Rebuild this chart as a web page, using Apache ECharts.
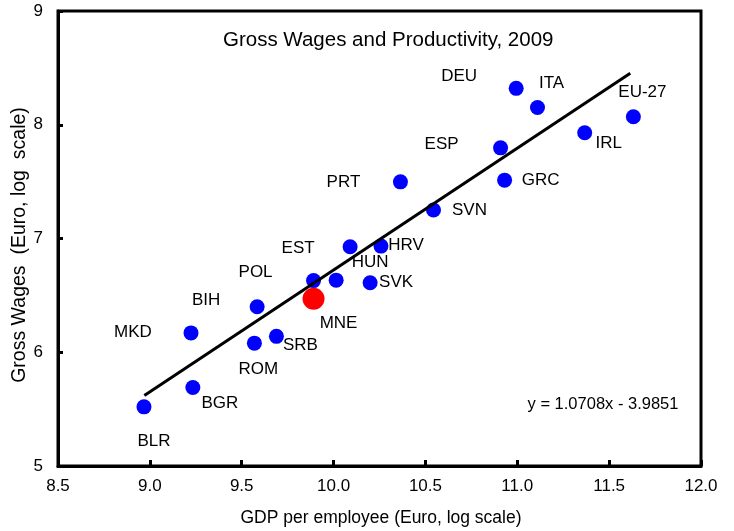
<!DOCTYPE html>
<html>
<head>
<meta charset="utf-8">
<script src="https://cdn.jsdelivr.net/npm/echarts@6/dist/echarts.min.js"></script>
<style>
  html, body { margin: 0; padding: 0; background: #fff; }
  #main { width: 734px; height: 531px; }
</style>
</head>
<body>
<div id="main"></div>
<script>
// country codes, GDP per employee (log) and gross wages (log)
var countries = ['BLR', 'BGR', 'MKD', 'BIH', 'ROM', 'SRB', 'POL', 'HUN', 'EST', 'SVK',
                 'HRV', 'PRT', 'SVN', 'ESP', 'GRC', 'DEU', 'ITA', 'IRL', 'EU-27'];
var gdpLog   = [8.968, 9.234, 9.224, 9.584, 9.569, 9.689, 9.891, 10.014, 10.090, 10.199,
                10.258, 10.364, 10.544, 10.909, 10.931, 10.994, 11.110, 11.367, 11.632];
var wageLog  = [5.52, 5.69, 6.17, 6.40, 6.08, 6.14, 6.63, 6.634, 6.928, 6.611,
                6.933, 7.498, 7.25, 7.797, 7.513, 8.32, 8.152, 7.93, 8.07];

// Montenegro highlighted
var mneName = 'MNE';
var mneGdp = 9.891;
var mneWage = 6.47;

// trend line from the chart's equation
var slope = 1.0708;
var intercept = -3.9851;
var trendX = [8.97, 11.615];

var xTicks = [8.5, 12.0, 0.5];   // min, max, step
var yTicks = [5, 9, 1];

// label placement (pixel offsets from the point)
var labelOffsets = {
  'BLR': [10, 34], 'BGR': [27, 16], 'MKD': [-58, -1], 'BIH': [-51, -6],
  'ROM': [4, 26], 'SRB': [24, 9], 'POL': [-58, -8], 'MNE': [25, 25],
  'HUN': [34, -18], 'EST': [-52, 2], 'SVK': [26, 0], 'HRV': [25, -1],
  'PRT': [-57, 0], 'SVN': [36, 0], 'ESP': [-59, -4], 'GRC': [36, 0],
  'DEU': [-57, -12], 'ITA': [14, -24], 'IRL': [24, 11], 'EU-27': [9, -24]
};

var font = "'Liberation Sans', Arial, sans-serif";

function labelFor(name) {
  return {
    show: true,
    position: 'inside',
    offset: labelOffsets[name],
    formatter: name,
    color: '#000',
    fontSize: 17,
    fontFamily: font
  };
}

var pts = countries.map(function (c, i) {
  return { name: c, value: [gdpLog[i], wageLog[i]], label: labelFor(c) };
});

var trend = trendX.map(function (x) { return [x, slope * x + intercept]; });

var myChart = echarts.init(document.getElementById('main'));
myChart.setOption({
  animation: false,
  backgroundColor: '#fff',
  grid: {
    left: 58, top: 11, right: 33, bottom: 65,
    show: true, borderColor: '#000', borderWidth: 3
  },
  xAxis: {
    type: 'value',
    min: xTicks[0], max: xTicks[1], interval: xTicks[2],
    axisLine: { show: true, lineStyle: { color: '#000', width: 3 } },
    axisTick: { show: true, inside: true, length: 6, lineStyle: { color: '#000', width: 3 } },
    axisLabel: {
      margin: 12, color: '#000', fontSize: 17, fontFamily: font,
      formatter: function (v) { return v.toFixed(1); }
    },
    splitLine: { show: false }
  },
  yAxis: {
    type: 'value',
    min: yTicks[0], max: yTicks[1], interval: yTicks[2],
    axisLine: { show: true, lineStyle: { color: '#000', width: 3 } },
    axisTick: { show: true, inside: true, length: 5, lineStyle: { color: '#000', width: 3 } },
    axisLabel: { margin: 15, color: '#000', fontSize: 17, fontFamily: font },
    splitLine: { show: false }
  },
  graphic: [
    {
      type: 'text', left: 223, top: 30,
      style: { text: 'Gross Wages and Productivity, 2009', fill: '#000', font: '20.5px ' + font }
    },
    {
      type: 'text', x: 20, y: 245, rotation: Math.PI / 2,
      style: {
        text: 'Gross Wages  (Euro, log  scale)', fill: '#000', font: '19.5px ' + font,
        align: 'center', verticalAlign: 'middle'
      }
    },
    {
      type: 'text', x: 381, y: 518,
      style: {
        text: 'GDP per employee (Euro, log scale)', fill: '#000', font: '17.5px ' + font,
        align: 'center', verticalAlign: 'middle'
      }
    },
    {
      type: 'text', x: 603, y: 404,
      style: {
        text: 'y = 1.0708x - 3.9851', fill: '#000', font: '16.5px ' + font,
        align: 'center', verticalAlign: 'middle'
      }
    }
  ],
  series: [
    {
      type: 'scatter',
      symbol: 'circle',
      symbolSize: 15,
      itemStyle: { color: '#0000ff', opacity: 1 },
      data: pts,
      z: 2
    },
    {
      type: 'line',
      data: trend,
      symbol: 'none',
      lineStyle: { color: '#000', width: 3 },
      z: 3
    },
    {
      type: 'scatter',
      symbol: 'circle',
      symbolSize: 22,
      itemStyle: { color: '#ff0000', opacity: 1 },
      data: [{ name: mneName, value: [mneGdp, mneWage], label: labelFor(mneName) }],
      z: 4
    }
  ]
});
</script>
</body>
</html>
